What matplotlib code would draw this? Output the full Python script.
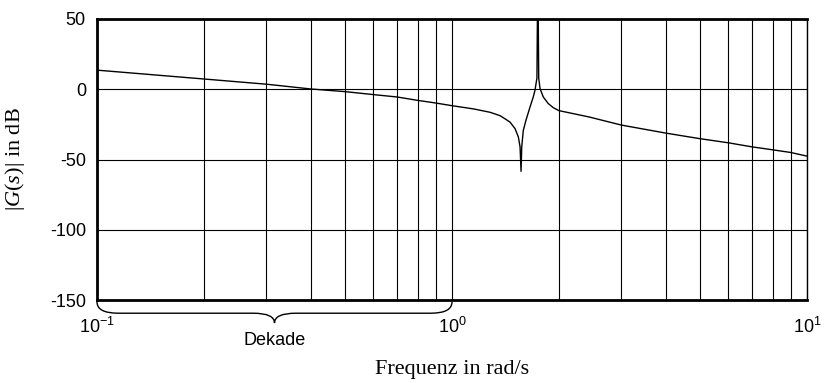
import numpy as np
import matplotlib
matplotlib.use("Agg")
import matplotlib.pyplot as plt
from matplotlib.path import Path
from matplotlib.patches import PathPatch
from matplotlib.ticker import LogLocator, NullFormatter

# values (frequency in rad/s, magnitude in dB)
freq = [0.1, 0.2, 0.3, 0.4, 0.5, 0.6, 0.7, 0.8, 0.9, 1.0, 1.15, 1.28,
        1.365, 1.41, 1.457, 1.505, 1.538, 1.555, 1.565, 1.572, 1.588, 1.616,
        1.659, 1.694, 1.713, 1.735, 1.745, 1.755, 1.770, 1.808, 1.867, 1.929,
        2.0, 2.44, 3.0, 4.0, 5.0, 6.0, 7.0, 8.0, 9.0, 10.0]
mag_db = [13.6, 7.3, 3.6, 0.2, -1.7, -3.8, -5.5, -7.9, -9.8, -11.7, -14.0, -16.4,
          -18.8, -21.0, -23.4, -28.0, -34.0, -41.0, -58.4, -41.0, -29.3, -22.0,
          -12.6, -5.5, -0.7, 8.0, 90.0, 8.0, 0.5, -5.5, -10.2, -13.1,
          -15.2, -19.8, -25.5, -31.2, -35.2, -38.1, -41.0, -43.1, -45.0, -47.6]
yticks = [-150, -100, -50, 0, 50]

plt.rcParams['font.family'] = ['Liberation Sans', 'DejaVu Sans']
plt.rcParams['axes.unicode_minus'] = False
plt.rcParams['mathtext.fontset'] = 'custom'
plt.rcParams['mathtext.rm'] = 'Liberation Serif'
plt.rcParams['mathtext.it'] = 'Liberation Serif:italic'

fig = plt.figure(figsize=(8.27, 3.83), dpi=100)
ax = fig.add_axes([0.1173, 0.2167, 0.8585, 0.7337])

ax.plot(freq, mag_db, color='k', lw=1.0, zorder=3)

ax.set_xscale('log')
ax.set_xlim(0.1, 10)
ax.set_ylim(-150, 50)
ax.set_yticks(yticks)
ax.xaxis.set_minor_locator(LogLocator(base=10, subs=np.arange(2, 10)))
ax.xaxis.set_minor_formatter(NullFormatter())
ax.set_xticks([0.1, 1, 10], ['$\\mathregular{10^{-1}}$', '$\\mathregular{10^{0}}$',
                              '$\\mathregular{10^{1}}$'])

ax.grid(True, which='major', color='k', lw=0.8)
ax.grid(True, which='minor', axis='x', color='k', lw=0.8)

ax.tick_params(axis='both', which='both', length=0, labelsize=13)
ax.tick_params(axis='x', pad=12)
ax.tick_params(axis='y', pad=8)

for side in ['left', 'bottom', 'top']:
    ax.spines[side].set_linewidth(2.0)
ax.spines['right'].set_linewidth(1.0)

# brace marking one decade (0.1 .. 1 is half of the axis width)
verts = [(0.0, -0.007), (0.0, -0.047), (0.03, -0.047),
         (0.22, -0.047),
         (0.25, -0.047), (0.25, -0.082),
         (0.25, -0.047), (0.28, -0.047),
         (0.47, -0.047),
         (0.5, -0.047), (0.5, -0.007)]
codes = [Path.MOVETO, Path.CURVE3, Path.CURVE3,
         Path.LINETO,
         Path.CURVE3, Path.CURVE3,
         Path.CURVE3, Path.CURVE3,
         Path.LINETO,
         Path.CURVE3, Path.CURVE3]
brace = PathPatch(Path(verts, codes), transform=ax.transAxes, fill=False,
                  lw=1.0, color='k', clip_on=False)
ax.add_patch(brace)
ax.text(0.25, -0.115, 'Dekade', transform=ax.transAxes, ha='center', va='top',
        fontsize=13)

ax.set_xlabel('Frequenz in rad/s', fontsize=16, family='Liberation Serif')
ax.xaxis.set_label_coords(0.5, -0.215)
ax.set_ylabel(r'$|G(s)|$ in dB', fontsize=16, family='Liberation Serif')
ax.yaxis.set_label_coords(-0.099, 0.5)

fig.savefig('out.png', dpi=100)
